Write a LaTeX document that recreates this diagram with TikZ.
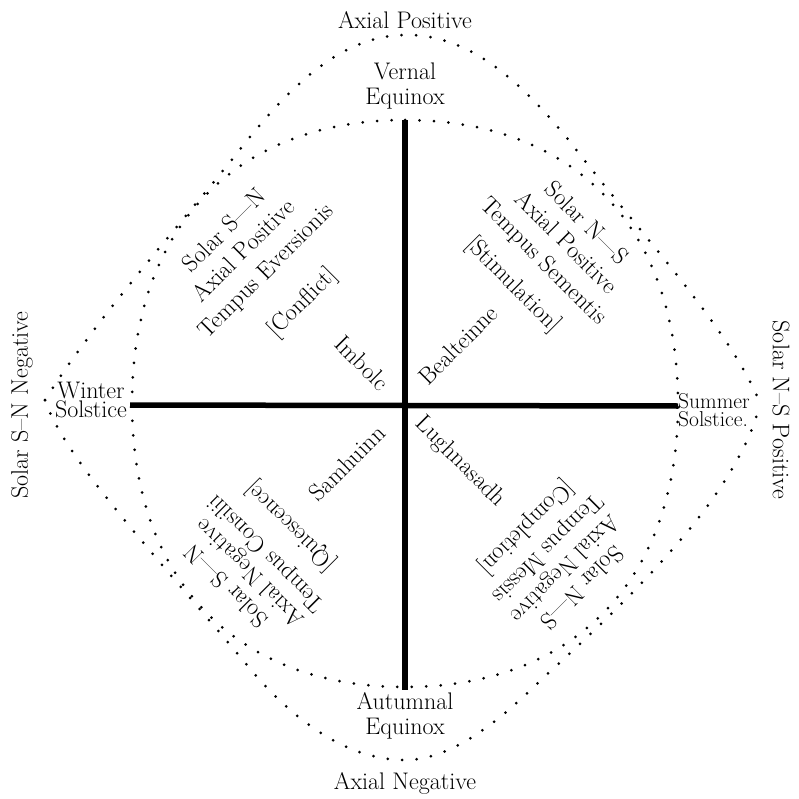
\documentclass[tikz,border=0pt]{standalone}
\usepackage{fontspec}
\begin{document}
\begin{tikzpicture}[x=1pt,y=-1pt,
  lab/.style={font=\fontsize{24}{25}\selectfont, inner sep=0pt, align=center},
  tight/.style={lab, font=\fontsize{24}{19}\selectfont},
  small/.style={font=\fontsize{21.5}{18.5}\selectfont, inner sep=0pt, align=left},
  dots/.style={line width=3pt, line cap=round, dash pattern=on 0pt off 14.5pt},
  axisline/.style={line width=5.5pt}]
\useasboundingbox (0,0) rectangle (798,799);
% axes
\coordinate (top) at (405,120);
\coordinate (bot) at (405,690);
\coordinate (lft) at (130,405);
\coordinate (rgt) at (678,406);
\draw[axisline] (top) -- (bot);
\draw[axisline] (lft) -- (rgt);
% inner dotted curve
\draw[dots] (405,120) .. controls (574.3,120) and (678,227.7) .. (678,403.5)
  .. controls (678,579.3) and (574.3,687) .. (405,687)
  .. controls (235.7,687) and (132,579.3) .. (132,403.5)
  .. controls (132,227.7) and (235.7,120) .. (405,120);
% outer dotted curve
\draw[dots] (45,400) .. controls (95,320) and (180,225) .. (238,152)
  .. controls (300,72) and (350,35) .. (407,35)
  .. controls (464,35) and (516,72) .. (578,152)
  .. controls (650,245) and (730,330) .. (760,403);
\draw[dots] (45,400) .. controls (65,460) and (160,560) .. (257,677)
  .. controls (300,725) and (350,760) .. (405,760)
  .. controls (460,760) and (515,705) .. (543,678)
  .. controls (640,590) and (740,490) .. (760,403);
% main labels
\node[lab] (axp) at (405,20) {Axial Positive};
\node[lab] (vern) at (405,86) {Vernal\\Equinox};
\node[tight] (wint) at (91,400) {Winter\\Solstice};
\node[small, anchor=west] (summ) at (678,410) {Summer\\Solstice.};
\node[lab] (autu) at (405,716) {Autumnal\\Equinox};
\node[lab] (axn) at (405,783) {Axial Negative};
\node[lab, rotate=90] (sneg) at (22,405) {Solar S--N Negative};
\node[lab, rotate=-90] (spos) at (781,410) {Solar N--S Positive};
% upper left
\node[lab, rotate=45] (ul1) at (224,230) {Solar S---N};
\node[lab, rotate=45] (ul2) at (243,250) {Axial Positive};
\node[lab, rotate=45] (ul3) at (267,272) {Tempus Eversionis};
\node[lab, rotate=45] (ul4) at (303,303) {[Conflict]};
\node[lab, rotate=-45] (imb) at (362,363) {Imbolc};
% upper right
\node[lab, rotate=-45] (ur1) at (587,223) {Solar N---S};
\node[lab, rotate=-45] (ur2) at (567,242) {Axial Positive};
\node[lab, rotate=-45] (ur3) at (543,262) {Tempus Sementis};
\node[lab, rotate=-45] (ur4) at (513,285) {[Stimulation]};
\node[lab, rotate=45] (bea) at (458,345) {Bealteinne};
% lower left
\node[lab, rotate=135] (ll1) at (226,586) {Solar S---N};
\node[lab, rotate=135] (ll2) at (251,572) {Axial Negative};
\node[lab, rotate=135] (ll3) at (267,553) {Tempus Consilii};
\node[lab, rotate=135] (ll4) at (291,526) {[Quiescence]};
\node[lab, rotate=45] (sam) at (347,463) {Samhuinn};
% lower right
\node[lab, rotate=225] (lr1) at (582,588) {Solar N---S};
\node[lab, rotate=225] (lr2) at (564,568) {Axial Negative};
\node[lab, rotate=225] (lr3) at (547,548) {Tempus Messis};
\node[lab, rotate=225] (lr4) at (526,527) {[Completion]};
\node[lab, rotate=-45] (lug) at (460,462) {Lughnasadh};
\end{tikzpicture}
\end{document}
